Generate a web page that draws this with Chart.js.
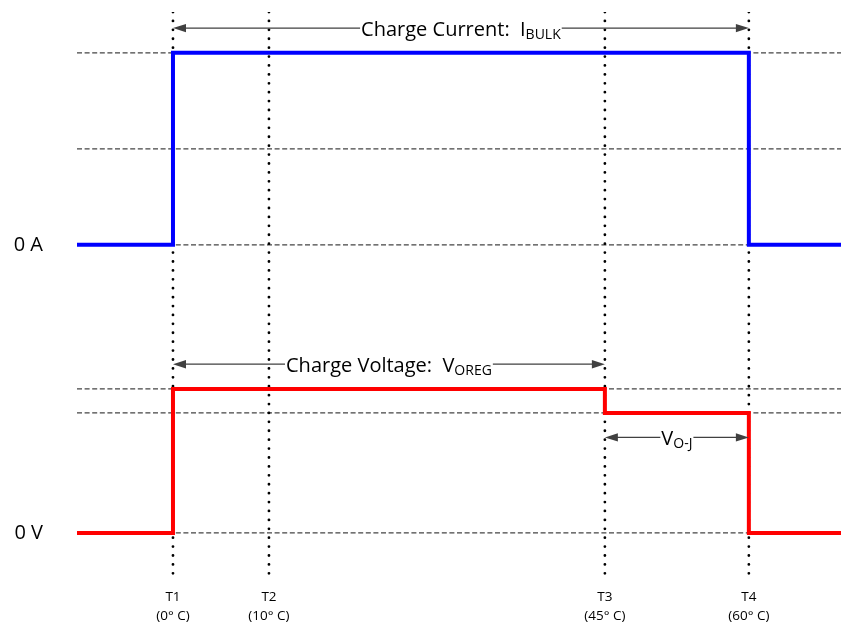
<!DOCTYPE html>
<html lang="en">
<head>
    <meta charset="UTF-8">
    <title>Charge Current and Charge Voltage vs Temperature</title>
    <style>
        html, body { margin: 0; padding: 0; background: #fff; }
        #chart { display: block; }
    </style>
</head>
<body>

<canvas id="chart" width="841" height="625" aria-label="Charge current and charge voltage timing chart" role="img"></canvas>

<script src="https://cdn.jsdelivr.net/npm/chart.js@4/dist/chart.umd.min.js"></script>

<script>
    // x axis: temperature in deg C, y axis: signal lanes (voltage lane low, current lane high)
    const xMin = -10, xMax = 69.6;
    const yMin = -0.98, yMax = 10.85;

    // temperature thresholds and their labels
    const tempPoints = [0, 10, 45, 60];
    const tempLabels = [['T1', '(0° C)'], ['T2', '(10° C)'], ['T3', '(45° C)'], ['T4', '(60° C)']];

    // lane reference levels
    const laneTicks = [0, 6];
    const laneLabels = ['0 V', '0 A'];
    const refLevels = [10, 8, 6, 3, 2.5, 0];

    // charge current (stepped: value holds until the next point)
    const currentTimes = [xMin, 0, 60, xMax];
    const currentValues = [6, 10, 6, 6];

    // charge voltage
    const voltageTimes = [xMin, 0, 45, 60, xMax];
    const voltageValues = [0, 3, 2.5, 0, 0];

    // span arrows with their captions
    const arrowFrom = [0, 0, 45];
    const arrowTo = [60, 45, 60];
    const arrowLevel = [10.515, 3.515, 1.99];
    const arrowText = ['Charge Current:  I', 'Charge Voltage:  V', 'V'];
    const arrowSub = ['BULK', 'OREG', 'O-J'];

    const FONT = "'Open Sans', 'Liberation Sans', sans-serif";

    function toPoints(xs, ys) {
        return xs.map((x, i) => ({ x: x, y: ys[i] }));
    }

    const datasets = [];

    datasets.push({
        data: toPoints(currentTimes, currentValues),
        stepped: true,
        borderColor: '#0000ff',
        borderWidth: 4,
        borderJoinStyle: 'miter',
        order: 0
    });

    datasets.push({
        data: toPoints(voltageTimes, voltageValues),
        stepped: true,
        borderColor: '#ff0000',
        borderWidth: 4,
        borderJoinStyle: 'miter',
        order: 0
    });

    // dotted temperature markers
    tempPoints.forEach(t => {
        datasets.push({
            data: [{ x: t, y: yMax }, { x: t, y: yMin }],
            borderColor: '#000',
            borderWidth: 2.8,
            borderDash: [0.01, 8.9],
            borderCapStyle: 'round',
            order: 1
        });
    });

    // dashed reference levels
    refLevels.forEach(v => {
        datasets.push({
            data: [{ x: xMin, y: v }, { x: xMax, y: v }],
            borderColor: '#444',
            borderWidth: 1.2,
            borderDash: [5, 2.6],
            order: 2
        });
    });

    /**
     * Double headed span arrows, line broken by the caption
     */
    const arrowPlugin = {
        id: 'spanArrows',
        afterDatasetsDraw(chart) {
            const ctx = chart.ctx;
            const xs = chart.scales.x, ys = chart.scales.y;
            ctx.save();
            arrowFrom.forEach((from, i) => {
                const x1 = xs.getPixelForValue(from);
                const x2 = xs.getPixelForValue(arrowTo[i]);
                const y = ys.getPixelForValue(arrowLevel[i]);

                ctx.font = '20px ' + FONT;
                const wMain = ctx.measureText(arrowText[i]).width;
                ctx.font = '14px ' + FONT;
                const wSub = ctx.measureText(arrowSub[i]).width;
                const w = wMain + wSub;
                const cx = (x1 + x2) / 2;
                const tx = cx - w / 2;

                ctx.strokeStyle = '#404040';
                ctx.fillStyle = '#404040';
                ctx.lineWidth = 1.3;
                ctx.beginPath();
                ctx.moveTo(x1 + 10, y);
                ctx.lineTo(tx - 1, y);
                ctx.moveTo(tx + w + 1, y);
                ctx.lineTo(x2 - 10, y);
                ctx.stroke();

                // heads
                [[x1, 1], [x2, -1]].forEach(([px, dir]) => {
                    ctx.beginPath();
                    ctx.moveTo(px, y);
                    ctx.lineTo(px + dir * 13, y - 4.2);
                    ctx.lineTo(px + dir * 13, y + 4.2);
                    ctx.closePath();
                    ctx.fill();
                });

                ctx.fillStyle = '#000';
                ctx.textBaseline = 'alphabetic';
                ctx.textAlign = 'left';
                ctx.font = '20px ' + FONT;
                ctx.fillText(arrowText[i], tx, y + 7.5);
                ctx.font = '14px ' + FONT;
                ctx.fillText(arrowSub[i], tx + wMain, y + 11);
            });
            ctx.restore();
        }
    };

    new Chart(document.getElementById('chart').getContext('2d'), {
        type: 'line',
        data: { datasets: datasets },
        options: {
            responsive: false,
            animation: false,
            events: [],
            layout: { padding: { top: 12, right: 0, bottom: 0, left: 0 } },
            elements: { point: { radius: 0 }, line: { tension: 0, fill: false } },
            plugins: { legend: { display: false }, tooltip: { enabled: false } },
            scales: {
                x: {
                    type: 'linear',
                    min: xMin,
                    max: xMax,
                    grid: { display: false, drawTicks: false },
                    border: { display: false },
                    afterBuildTicks: scale => { scale.ticks = tempPoints.map(v => ({ value: v })); },
                    afterFit: scale => {
                        scale.height = 45;
                        scale.paddingLeft = 0;
                        scale.paddingRight = 0;
                    },
                    ticks: {
                        padding: 7.5,
                        maxRotation: 0,
                        autoSkip: false,
                        color: '#000',
                        font: { family: FONT, size: 13.5, lineHeight: 1.4 },
                        callback: (value, index) => tempLabels[index]
                    }
                },
                y: {
                    type: 'linear',
                    min: yMin,
                    max: yMax,
                    grid: { display: false, drawTicks: false },
                    border: { display: false },
                    afterBuildTicks: scale => { scale.ticks = laneTicks.map(v => ({ value: v })); },
                    afterFit: scale => {
                        scale.width = 77;
                        scale.paddingTop = 0;
                        scale.paddingBottom = 0;
                    },
                    ticks: {
                        padding: 34,
                        autoSkip: false,
                        color: '#000',
                        font: { family: FONT, size: 20 },
                        callback: (value, index) => laneLabels[index]
                    }
                }
            }
        },
        plugins: [arrowPlugin]
    });
</script>

</body>
</html>
